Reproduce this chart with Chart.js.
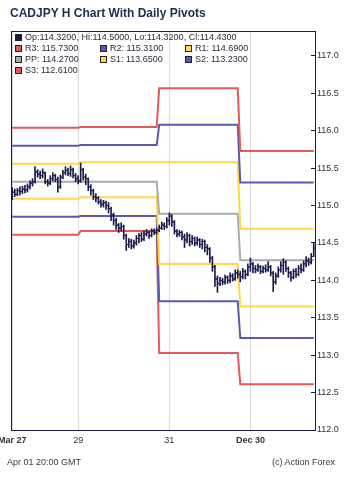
<!DOCTYPE html>
<html lang="en">
<head>
    <title>CADJPY H Chart With Daily Pivots</title>
    <meta charset="utf-8">
    <script src="https://cdn.jsdelivr.net/npm/chart.js"></script>
    <style>
        body { margin: 0; background: #fff; }
        .wrap { position: relative; width: 350px; height: 481px; font-family: 'Liberation Sans', Arial, sans-serif; }
        canvas { position: absolute; left: 0; top: 0; }
        .title { position: absolute; left: 10px; top: 6px; font-size: 12px; font-weight: bold; color: #1f2d4d; line-height: 14px; white-space: nowrap; }
        .legend { position: absolute; left: 0; top: 32px; font-size: 9px; color: #2d2d3a; }
        .item { position: absolute; white-space: nowrap; line-height: 11px; height: 11px; }
        .box { position: absolute; width: 5px; height: 5px; border: 1px solid #222; top: 2px; }
        .foot { position: absolute; top: 456px; font-size: 9px; color: #3a3a3a; line-height: 12px; }
    </style>
</head>
<body>
    <div class="wrap">
        <canvas id="chart" width="350" height="481"></canvas>
        <div class="title">CADJPY H Chart With Daily Pivots</div>
        <div class="legend" id="legend"></div>
        <div class="foot" style="left:7px">Apr 01 20:00 GMT</div>
        <div class="foot" style="right:15px">(c) Action Forex</div>
    </div>
    <script>
        // hourly bars
        const opens = [
            115.20, 115.18, 115.15, 115.20, 115.19, 115.22, 115.21, 115.25, 115.30, 115.32,
            115.45, 115.42, 115.40, 115.44, 115.32, 115.30, 115.36, 115.40, 115.35, 115.25,
            115.38, 115.44, 115.47, 115.43, 115.48, 115.40, 115.36, 115.33, 115.48, 115.38,
            115.36, 115.25, 115.20, 115.12, 115.10, 115.05, 115.02, 115.04, 115.00, 114.96,
            114.88, 114.80, 114.74, 114.70, 114.72, 114.60, 114.48, 114.52, 114.46, 114.50,
            114.56, 114.60, 114.55, 114.62, 114.64, 114.60, 114.66, 114.64, 114.67, 114.70,
            114.74, 114.72, 114.80, 114.86, 114.78, 114.66, 114.62, 114.64, 114.58, 114.54,
            114.60, 114.52, 114.56, 114.50, 114.54, 114.48, 114.52, 114.44, 114.42, 114.30,
            114.18, 114.02, 113.96, 114.00, 113.98, 114.04, 114.00, 114.06, 114.02, 114.10,
            114.08, 114.05, 114.12, 114.08, 114.18, 114.22, 114.16, 114.14, 114.18, 114.12,
            114.16, 114.14, 114.18, 114.10, 113.98, 114.06, 114.14, 114.20, 114.24, 114.16,
            114.10, 114.04, 114.12, 114.08, 114.16, 114.14, 114.22, 114.26, 114.24, 114.32
        ];
        const highs = [
            115.24, 115.22, 115.23, 115.25, 115.26, 115.27, 115.29, 115.33, 115.36, 115.52,
            115.48, 115.46, 115.49, 115.45, 115.35, 115.40, 115.44, 115.42, 115.38, 115.41,
            115.47, 115.52, 115.50, 115.53, 115.50, 115.43, 115.40, 115.57, 115.50, 115.42,
            115.37, 115.28, 115.22, 115.16, 115.12, 115.08, 115.07, 115.06, 115.04, 114.98,
            114.90, 114.83, 114.76, 114.77, 114.74, 114.62, 114.56, 114.55, 114.54, 114.60,
            114.63, 114.64, 114.66, 114.68, 114.66, 114.69, 114.69, 114.70, 114.74, 114.78,
            114.77, 114.84, 114.90, 114.88, 114.80, 114.68, 114.67, 114.66, 114.62, 114.64,
            114.62, 114.60, 114.58, 114.58, 114.56, 114.55, 114.54, 114.48, 114.44, 114.32,
            114.20, 114.06, 114.04, 114.03, 114.07, 114.06, 114.10, 114.09, 114.14, 114.14,
            114.12, 114.16, 114.14, 114.22, 114.30, 114.24, 114.20, 114.22, 114.20, 114.19,
            114.21, 114.25, 114.20, 114.12, 114.10, 114.18, 114.25, 114.29, 114.26, 114.18,
            114.12, 114.15, 114.16, 114.20, 114.22, 114.26, 114.32, 114.30, 114.36, 114.50
        ];
        const lows = [
            115.08, 115.12, 115.13, 115.14, 115.16, 115.17, 115.18, 115.22, 115.26, 115.30,
            115.38, 115.36, 115.37, 115.29, 115.26, 115.28, 115.33, 115.32, 115.18, 115.23,
            115.36, 115.41, 115.40, 115.39, 115.37, 115.32, 115.29, 115.31, 115.34, 115.28,
            115.20, 115.14, 115.08, 115.05, 115.02, 114.98, 114.98, 114.95, 114.90, 114.80,
            114.74, 114.68, 114.64, 114.66, 114.55, 114.40, 114.44, 114.42, 114.43, 114.47,
            114.50, 114.52, 114.53, 114.59, 114.56, 114.58, 114.61, 114.62, 114.65, 114.68,
            114.68, 114.70, 114.74, 114.72, 114.62, 114.58, 114.59, 114.54, 114.44, 114.50,
            114.46, 114.48, 114.46, 114.47, 114.44, 114.42, 114.38, 114.34, 114.24, 114.12,
            113.92, 113.84, 113.93, 113.94, 113.95, 113.96, 113.97, 113.99, 114.00, 114.03,
            113.98, 114.02, 114.02, 114.06, 114.12, 114.10, 114.10, 114.12, 114.09, 114.10,
            114.11, 114.12, 114.06, 113.85, 113.95, 114.04, 114.11, 114.08, 114.12, 114.04,
            113.99, 114.02, 114.04, 114.06, 114.10, 114.12, 114.18, 114.20, 114.22, 114.32
        ];
        const closes = [
            115.18, 115.15, 115.20, 115.19, 115.22, 115.21, 115.25, 115.30, 115.32, 115.45,
            115.42, 115.40, 115.44, 115.32, 115.30, 115.36, 115.40, 115.35, 115.25, 115.38,
            115.44, 115.47, 115.43, 115.48, 115.40, 115.36, 115.33, 115.48, 115.38, 115.36,
            115.25, 115.20, 115.12, 115.10, 115.05, 115.02, 115.04, 115.00, 114.96, 114.88,
            114.80, 114.74, 114.70, 114.72, 114.60, 114.48, 114.52, 114.46, 114.50, 114.56,
            114.60, 114.55, 114.62, 114.64, 114.60, 114.66, 114.64, 114.67, 114.70, 114.74,
            114.72, 114.80, 114.86, 114.78, 114.66, 114.62, 114.64, 114.58, 114.54, 114.60,
            114.52, 114.56, 114.50, 114.54, 114.48, 114.52, 114.44, 114.42, 114.30, 114.18,
            114.02, 113.96, 114.00, 113.98, 114.04, 114.00, 114.06, 114.02, 114.10, 114.08,
            114.05, 114.12, 114.08, 114.18, 114.22, 114.16, 114.14, 114.18, 114.12, 114.16,
            114.14, 114.18, 114.10, 113.98, 114.06, 114.14, 114.20, 114.24, 114.16, 114.10,
            114.04, 114.12, 114.08, 114.16, 114.14, 114.22, 114.26, 114.24, 114.32, 114.43
        ];

        // daily pivot levels, one value per day (bar index where each day starts)
        const pivotStart = [0, 27, 58, 90];
        const r3 = [116.04, 116.05, 116.57, 115.73];
        const r2 = [115.80, 115.81, 116.08, 115.31];
        const r1 = [115.56, 115.58, 115.58, 114.69];
        const pp = [115.32, 115.32, 114.89, 114.27];
        const s1 = [115.09, 115.11, 114.22, 113.65];
        const s2 = [114.85, 114.86, 113.72, 113.23];
        const s3 = [114.61, 114.66, 113.03, 112.61];

        const xTickIdx = [0, 26, 62, 94];
        const xTickLabels = ['Mar 27', '29', '31', 'Dec 30'];
        const xTickBold = [true, false, false, true];
        const yTicks = [112, 112.5, 113, 113.5, 114, 114.5, 115, 115.5, 116, 116.5, 117];

        const NAVY = '#1b1b4b';
        const RED = '#e25a5a', BLUE = '#5a5ab2', YELLOW = '#ffd84a', GRAY = '#aaaaaa';
        const N = closes.length;
        const idx = closes.map((_, i) => i);
        const TICK = 0.4;

        function stepLine(vals) {
            const pts = [];
            vals.forEach((v, k) => {
                const end = k + 1 < pivotStart.length ? pivotStart[k + 1] - 1 : N - 1;
                pts.push({x: pivotStart[k], y: v}, {x: end, y: v});
            });
            return pts;
        }
        function pivotSet(label, vals, color) {
            return {type: 'line', label: label, data: stepLine(vals), borderColor: color,
                borderWidth: 2, pointRadius: 0, tension: 0, order: 1};
        }

        // legend (html, over the plot)
        const last = N - 1;
        const legendItems = [
            {t: 'Op:' + opens[last].toFixed(4) + ', Hi:' + highs[last].toFixed(4) + ', Lo:' + lows[last].toFixed(4) + ', Cl:' + closes[last].toFixed(4), c: NAVY, col: 0, row: 0},
            {t: 'R3: ' + r3[3].toFixed(4), c: RED, col: 0, row: 1},
            {t: 'R2: ' + r2[3].toFixed(4), c: BLUE, col: 1, row: 1},
            {t: 'R1: ' + r1[3].toFixed(4), c: YELLOW, col: 2, row: 1},
            {t: 'PP: ' + pp[3].toFixed(4), c: GRAY, col: 0, row: 2},
            {t: 'S1: ' + s1[3].toFixed(4), c: YELLOW, col: 1, row: 2},
            {t: 'S2: ' + s2[3].toFixed(4), c: BLUE, col: 2, row: 2},
            {t: 'S3: ' + s3[3].toFixed(4), c: RED, col: 0, row: 3}
        ];
        const colX = [15, 100, 185];
        const leg = document.getElementById('legend');
        legendItems.forEach(it => {
            const d = document.createElement('div');
            d.className = 'item';
            d.style.left = colX[it.col] + 'px';
            d.style.top = (it.row * 11.1) + 'px';
            d.innerHTML = '<span class="box" style="background:' + it.c + '"></span><span style="padding-left:10px">' + it.t + '</span>';
            leg.appendChild(d);
        });

        const framePlugin = {
            id: 'frame',
            afterDraw(chart) {
                const a = chart.chartArea, ctx = chart.ctx;
                ctx.save();
                ctx.strokeStyle = NAVY;
                ctx.lineWidth = 1;
                ctx.strokeRect(Math.round(a.left) + 0.5, Math.round(a.top) + 0.5,
                    Math.round(a.right - a.left), Math.round(a.bottom - a.top));
                ctx.restore();
            }
        };

        Chart.defaults.font.family = "'Liberation Sans', Arial, sans-serif";
        Chart.defaults.font.size = 9;
        Chart.defaults.color = '#333';

        new Chart(document.getElementById('chart'), {
            type: 'bar',
            data: {
                datasets: [
                    {type: 'bar', label: 'HL', data: idx.map(i => ({x: i, y: [lows[i], highs[i]]})),
                        backgroundColor: NAVY, barThickness: 1, order: 0},
                    {type: 'scatter', label: 'O', data: idx.map(i => ({x: i - TICK, y: opens[i]})),
                        pointStyle: 'line', pointRadius: 1, borderColor: NAVY, borderWidth: 1, order: 0},
                    {type: 'scatter', label: 'C', data: idx.map(i => ({x: i + TICK, y: closes[i]})),
                        pointStyle: 'line', pointRadius: 1, borderColor: NAVY, borderWidth: 1, order: 0},
                    pivotSet('R3', r3, RED),
                    pivotSet('R2', r2, BLUE),
                    pivotSet('R1', r1, YELLOW),
                    pivotSet('PP', pp, GRAY),
                    pivotSet('S1', s1, YELLOW),
                    pivotSet('S2', s2, BLUE),
                    pivotSet('S3', s3, RED)
                ]
            },
            options: {
                responsive: false,
                animation: false,
                events: [],
                layout: {padding: {left: 11, top: 31, right: 0, bottom: 0}},
                plugins: {legend: {display: false}, tooltip: {enabled: false}},
                scales: {
                    x: {
                        type: 'linear',
                        min: -0.5,
                        max: N - 0.5,
                        offset: false,
                        grid: {offset: false, color: '#d9d9d9', drawTicks: false},
                        border: {display: false},
                        afterBuildTicks: s => { s.ticks = xTickIdx.map(v => ({value: v})); },
                        afterFit: s => { s.height = 51; s.paddingLeft = 0; s.paddingRight = 0; },
                        ticks: {
                            autoSkip: false,
                            maxRotation: 0,
                            padding: 5,
                            color: '#333',
                            callback: (v, i) => xTickLabels[i],
                            font: c => ({size: 9, weight: xTickBold[c.index] ? 'bold' : 'normal'})
                        }
                    },
                    y: {
                        type: 'linear',
                        position: 'right',
                        min: 112,
                        max: 117.334,
                        grid: {drawOnChartArea: false, tickLength: -4, tickColor: NAVY},
                        border: {color: NAVY},
                        afterBuildTicks: s => { s.ticks = yTicks.map(v => ({value: v})); },
                        afterFit: s => { s.width = 35; },
                        ticks: {padding: 6, color: '#333', callback: v => v.toFixed(1)}
                    }
                }
            },
            plugins: [framePlugin]
        });
    </script>
</body>
</html>
